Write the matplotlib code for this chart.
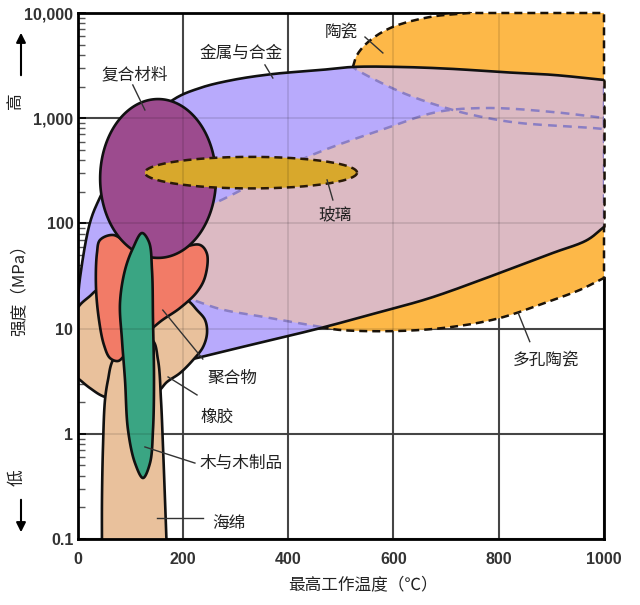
import numpy as np
import matplotlib
matplotlib.use('Agg')
import matplotlib.pyplot as plt
from matplotlib.patches import Polygon
from matplotlib.ticker import FixedLocator, LogLocator, NullFormatter

plt.rcParams['font.family'] = ['Noto Sans CJK SC', 'DejaVu Sans']

# axis ticks
temp_ticks = [0, 200, 400, 600, 800, 1000]
strength_ticks = [0.1, 1, 10, 100, 1000, 10000]
strength_labels = ['0.1', '1', '10', '100', '1,000', '10,000']

# region outlines, (max service temperature C, strength MPa)
metals_top = [(1, 12.1), (1, 18.7), (5, 31), (24, 103), (43, 178), (100, 620), (181, 1490),
              (233, 1940), (295, 2310), (371, 2630), (461, 2870), (523, 3070), (613, 3070),
              (713, 2940), (802, 2750), (903, 2580), (1000, 2310)]
metals_bottom = [(1000, 92.5), (968, 69.5), (903, 52.4), (802, 33.8), (669, 19.5), (575, 14.4),
                 (461, 10.1), (328, 6.98), (227, 5.26), (138, 4.2), (43, 7)]

ceramic_arc = [(523, 3070), (531, 3990), (552, 5300), (594, 7200), (669, 9160), (745, 10000)]
ceramic_corner = [(1000, 10000)]
ceramic_base = [(1000, 789), (979, 807), (840, 900), (778, 1005), (713, 1197), (618, 1740),
                (531, 2870), (523, 3070)]

porous_top = [(138, 86), (261, 156), (436, 427), (588, 808), (683, 1145), (778, 1250),
              (903, 1145), (1000, 1005)]
porous_bottom = [(1000, 30.3), (954, 23.3), (903, 18.7), (802, 12.6), (713, 10.4), (613, 9.5),
                 (499, 9.7), (461, 10.4), (366, 12.6), (252, 16.4), (157, 29), (138, 86)]

composite_t = (43, 263)
composite_s = (47, 1520)
glass_t = (128, 531)
glass_s = (215, 429)

polymers = [(37, 52.4), (42.7, 69.5), (67.4, 77.6), (94, 65.2), (137.7, 50.1), (194.7, 58.3),
            (232.7, 62.4), (246, 51.2), (242.2, 30.9), (227, 22.3), (194.7, 15.7), (156.7, 11.6),
            (118.7, 7.8), (90.2, 5.61), (76.9, 4.92), (61.7, 5.25), (50.3, 6.98), (40.8, 12.1),
            (35.1, 24.8)]
rubber = [(-6.6, 3.62), (-6.6, 13.5), (4.7, 16.8), (23.7, 20.4), (37, 23.3), (80.7, 29),
          (156.7, 23.3), (208, 18.7), (227, 15), (242.2, 12.1), (246, 9.08), (238.4, 6.68),
          (219.4, 5.03), (194.7, 3.78), (170, 3.11), (151, 2.49), (99.7, 2.14), (52.2, 2.24),
          (23.7, 2.72), (4.7, 3.25)]
foam = [(46.5, 0.07), (46.5, 0.235), (48.4, 0.75), (52.2, 2.09), (57.9, 3.25), (67.4, 5.03),
        (99.7, 7.8), (141.5, 7.8), (152.9, 5.03), (158.6, 2.09), (162.4, 0.75), (166.2, 0.235),
        (170, 0.07)]
wood = [(122.5, 81), (135.8, 66.5), (141.5, 36), (143.4, 12.1), (145.3, 3.25), (143.4, 1.09),
        (137.7, 0.527), (124.4, 0.38), (109.2, 0.527), (95.9, 1.09), (90.2, 3.25), (84.5, 7.8),
        (80.7, 17.5), (90.2, 36), (105.4, 58.3)]

# labels: text, text centre, leader start, leader end
labels = [
    ('复合材料', (108, 2578), (105, 2070), (128, 1197)),
    ('金属与合金', (311, 4170), (356, 3210), (371, 2410)),
    ('陶瓷', (501, 6600), (546, 5910), (580, 4170)),
    ('玻璃', (489, 120), (485, 167), (474, 259)),
    ('多孔陶瓷', (889, 5.03), (859, 7.52), (837, 14.1)),
    ('聚合物', (294, 3.32), (238, 5.14), (162, 15.0)),
    ('橡胶', (265, 1.445), (227, 2.34), (172, 3.47)),
    ('木与木制品', (311, 0.527), (223, 0.527), (128, 0.75)),
    ('海绵', (288, 0.142), (238, 0.158), (151, 0.158)),
]

c_metal = '#b8aafc'
c_pink = '#dcbac3'
c_orange = '#fdb848'
c_comp = '#9c4b8e'
c_glass = '#d8a82c'
c_poly = '#f27b67'
c_tan = '#e9c19c'
c_wood = '#3aa583'


def to_uv(pts):
    a = np.asarray(pts, dtype=float)
    return np.column_stack([a[:, 0] / 1000.0, np.log10(a[:, 1]) / 5.0])


def to_data(uv):
    return np.column_stack([uv[:, 0] * 1000.0, 10 ** (uv[:, 1] * 5.0)])


def spline(pts, closed=False, n=20):
    # centripetal catmull-rom through the outline points (log space)
    p = to_uv(pts)
    if len(p) < 3:
        return p
    if closed:
        ext = np.vstack([p[-1:], p, p[:2]])
    else:
        ext = np.vstack([2 * p[0] - p[1], p, 2 * p[-1] - p[-2]])
    out = []
    for i in range(1, len(ext) - 2):
        p0, p1, p2, p3 = ext[i - 1:i + 3]
        t0 = 0.0
        t1 = t0 + np.linalg.norm(p1 - p0) ** 0.5 + 1e-9
        t2 = t1 + np.linalg.norm(p2 - p1) ** 0.5 + 1e-9
        t3 = t2 + np.linalg.norm(p3 - p2) ** 0.5 + 1e-9
        t = np.linspace(t1, t2, n, endpoint=False)[:, None]
        a1 = (t1 - t) / (t1 - t0) * p0 + (t - t0) / (t1 - t0) * p1
        a2 = (t2 - t) / (t2 - t1) * p1 + (t - t1) / (t2 - t1) * p2
        a3 = (t3 - t) / (t3 - t2) * p2 + (t - t2) / (t3 - t2) * p3
        b1 = (t2 - t) / (t2 - t0) * a1 + (t - t0) / (t2 - t0) * a2
        b2 = (t3 - t) / (t3 - t1) * a2 + (t - t1) / (t3 - t1) * a3
        out.append((t2 - t) / (t2 - t1) * b1 + (t - t1) / (t2 - t1) * b2)
    if not closed:
        out.append(p[-1:])
    return np.vstack(out)


def outline(*pieces):
    return to_data(np.vstack([spline(pc) for pc in pieces]))


def blob(pts):
    return to_data(spline(pts, closed=True))


def ellipse(tr, sr, n=240):
    uv = to_uv([(tr[0], sr[0]), (tr[1], sr[1])])
    c = uv.mean(axis=0)
    r = (uv[1] - uv[0]) / 2
    th = np.linspace(0, 2 * np.pi, n)
    return to_data(np.column_stack([c[0] + r[0] * np.cos(th), c[1] + r[1] * np.sin(th)]))


def closed_line(xy):
    return np.vstack([xy, xy[:1]])


fig = plt.figure(figsize=(6.4, 6.05), dpi=100)
ax = fig.add_axes([77.5 / 640, 66 / 605, 526.5 / 640, 526 / 605])
ax.set_yscale('log')
ax.set_xlim(temp_ticks[0], temp_ticks[-1])
ax.set_ylim(strength_ticks[0], strength_ticks[-1])

ax.set_axisbelow(True)
ax.grid(True, which='major', color='#4d4d4d', lw=1.5)

dash = (0, (3.2, 2.0))

# ceramics and porous ceramics (orange, dashed)
ceramic_xy = outline(ceramic_arc, ceramic_corner, ceramic_base)
porous_xy = outline(porous_top, porous_bottom)
for xy in (ceramic_xy, porous_xy):
    ax.add_patch(Polygon(xy, closed=True, fc=c_orange, ec='none', zorder=1))
    cl = closed_line(xy)
    ax.plot(cl[:, 0], cl[:, 1], color='#1a1208', lw=1.8, ls=dash, zorder=1.2, clip_on=False)

# metals and alloys
top_xy = outline(metals_top)
bot_xy = outline(metals_bottom)
metal_xy = np.vstack([top_xy, bot_xy])
metal_patch = Polygon(metal_xy, closed=True, fc=c_metal, ec='none', zorder=2)
ax.add_patch(metal_patch)
for xy in (ceramic_xy, porous_xy):
    pk = Polygon(xy, closed=True, fc=c_pink, ec='none', zorder=2.1)
    ax.add_patch(pk)
    pk.set_clip_path(metal_patch)
    cl = closed_line(xy)
    ln, = ax.plot(cl[:, 0], cl[:, 1], color='#8a7ec4', lw=1.8, ls=(0, (3.5, 2.5)), zorder=2.2)
    ln.set_clip_path(metal_patch)
for xy in (top_xy, bot_xy):
    ax.plot(xy[:, 0], xy[:, 1], color='#111111', lw=1.9, zorder=2.3)
ax.plot([metals_top[-1][0]] * 2, [metals_top[-1][1], metals_bottom[0][1]],
        color='#1a1208', lw=1.8, ls=dash, zorder=2.4, clip_on=False)

# the small families
shapes = [
    (blob(rubber), c_tan, 3.0),
    (outline(foam), c_tan, 3.2),
    (blob(polymers), c_poly, 3.4),
    (ellipse(composite_t, composite_s), c_comp, 3.6),
]
for xy, col, z in shapes:
    ax.add_patch(Polygon(xy, closed=True, fc=col, ec='#111111', lw=1.9, zorder=z))

glass_xy = ellipse(glass_t, glass_s)
ax.add_patch(Polygon(glass_xy, closed=True, fc=c_glass, ec='none', zorder=3.8))
gl = closed_line(glass_xy)
ax.plot(gl[:, 0], gl[:, 1], color='#2a1a08', lw=1.8, ls=dash, zorder=3.85)

ax.add_patch(Polygon(blob(wood), closed=True, fc=c_wood, ec='#111111', lw=1.9, zorder=4))

# faint grid showing through the regions
for t in temp_ticks[1:-1]:
    ax.axvline(t, color='black', alpha=0.12, lw=1.2, zorder=5)
for s in strength_ticks[1:-1]:
    ax.axhline(s, color='black', alpha=0.12, lw=1.2, zorder=5)

# labels with leader lines
for txt, pos, a, b in labels:
    ax.plot([a[0], b[0]], [a[1], b[1]], color='#333333', lw=1.0, zorder=7)
    ax.text(pos[0], pos[1], txt, ha='center', va='center', fontsize=12, color='#222222', zorder=8)

# axes styling
ax.yaxis.set_major_locator(FixedLocator(strength_ticks))
ax.set_yticklabels(strength_labels)
ax.yaxis.set_minor_locator(LogLocator(base=10, subs=np.arange(2, 10)))
ax.yaxis.set_minor_formatter(NullFormatter())
ax.set_xticks(temp_ticks)
ax.set_xticklabels([str(t) for t in temp_ticks])
ax.tick_params(axis='y', which='both', direction='in', left=True, right=False, pad=3)
ax.tick_params(axis='y', which='minor', length=5, width=1, color='#555555')
ax.tick_params(axis='y', which='major', length=6, width=1.2)
ax.tick_params(axis='x', length=0, pad=9)
for lab in ax.get_xticklabels() + ax.get_yticklabels():
    lab.set_fontfamily('Liberation Sans')
    lab.set_fontweight('bold')
    lab.set_fontsize(11.5)
    lab.set_color('#333333')

for side in ['left', 'bottom']:
    ax.spines[side].set_linewidth(2)
    ax.spines[side].set_zorder(6)
for side in ['top', 'right']:
    ax.spines[side].set_linewidth(2)
    ax.spines[side].set_zorder(0.8)
ax.spines['top'].set_bounds(temp_ticks[0], ceramic_arc[-1][0])
ax.spines['right'].set_bounds(strength_ticks[0], porous_bottom[0][1])

fig.text(363 / 640, 1 - 585 / 605, '最高工作温度（℃）', ha='center', va='center', fontsize=12, color='#222222')
fig.text(19 / 640, 1 - 286 / 605, '强度（MPa）', ha='center', va='center', rotation=90, fontsize=12, color='#222222')
fig.text(16 / 640, 1 - 101 / 605, '高', ha='center', va='center', rotation=90, fontsize=12, color='#222222')
fig.text(17 / 640, 1 - 478 / 605, '低', ha='center', va='center', rotation=90, fontsize=12, color='#222222')
arrow = dict(arrowstyle='-|>', color='black', lw=1.5, mutation_scale=14)
fig.add_artist(matplotlib.patches.FancyArrowPatch((21, 605 - 78), (21, 605 - 30), transform=None, **arrow))
fig.add_artist(matplotlib.patches.FancyArrowPatch((21, 605 - 497), (21, 605 - 535), transform=None, **arrow))

fig.savefig('out.png', dpi=100)
